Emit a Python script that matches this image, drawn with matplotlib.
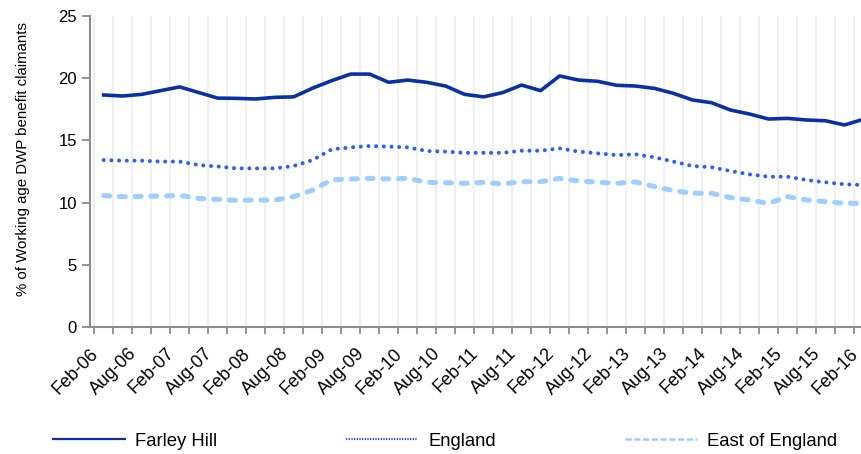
import matplotlib.pyplot as plt
from matplotlib.lines import Line2D

plt.rcParams['font.family'] = ['Liberation Sans', 'DejaVu Sans']

# Quarterly points, Feb-06 .. Feb-16
quarters = []
for yr in range(6, 17):
    for mon in ["Feb", "May", "Aug", "Nov"]:
        quarters.append(f"{mon}-{yr:02d}")
quarters = quarters[:41]

farley_hill = [18.65, 18.57, 18.7, 19.0, 19.3, 18.85, 18.4, 18.38, 18.33, 18.46,
               18.5, 19.2, 19.8, 20.33, 20.33, 19.67, 19.85, 19.67, 19.37, 18.7,
               18.5, 18.84, 19.45, 19.0, 20.18, 19.85, 19.75, 19.43, 19.37, 19.18,
               18.78, 18.25, 18.03, 17.44, 17.12, 16.72, 16.77, 16.64, 16.58, 16.24,
               16.7]
england = [13.42, 13.37, 13.37, 13.3, 13.3, 13.02, 12.9, 12.75, 12.75, 12.75,
           12.94, 13.42, 14.28, 14.44, 14.55, 14.5, 14.44, 14.15, 14.1, 14.0,
           14.0, 14.0, 14.17, 14.17, 14.36, 14.1, 13.96, 13.82, 13.88, 13.64,
           13.29, 12.94, 12.84, 12.54, 12.27, 12.08, 12.08, 11.82, 11.63, 11.47,
           11.41]
east_of_england = [10.56, 10.48, 10.5, 10.53, 10.58, 10.34, 10.26, 10.18, 10.2, 10.2,
                   10.48, 11.0, 11.82, 11.9, 11.95, 11.9, 11.95, 11.63, 11.6, 11.55,
                   11.63, 11.5, 11.68, 11.68, 11.95, 11.74, 11.63, 11.55, 11.66, 11.28,
                   10.96, 10.75, 10.75, 10.4, 10.21, 9.94, 10.48, 10.21, 10.08, 9.94,
                   9.94]

c_farley = "#0a30a6"
c_england = "#2f5cff"
c_east = "#9fcdfd"
axis_grey = "#8c8c8c"

W, H = 862, 454
fig = plt.figure(figsize=(W / 100, H / 100), dpi=100)
# axes runs slightly past the right edge of the picture, as in the source
ax = fig.add_axes([90 / W, (H - 327) / H, 783 / W, 311 / H])

x = list(range(len(quarters)))
ax.plot(x, farley_hill, color=c_farley, lw=2.6, solid_joinstyle="round", zorder=3)
ax.plot(x, england, color=c_england, lw=2.9, linestyle=(0, (0.01, 1.9)),
        dash_capstyle="round", zorder=3)
ax.plot(x, east_of_england, color=c_east, lw=3.6, linestyle=(0, (1.2, 1.95)),
        dash_capstyle="round", zorder=3)

ax.set_xlim(-0.5, len(quarters) - 0.5)
ax.set_ylim(0, 25)
ax.set_yticks(range(0, 26, 5))

# labels every other quarter (nudged left so the rotated text ends at the
# category), ticks and grid between categories
label_offset = -0.72
ax.set_xticks([i + label_offset for i in x[::2]])
ax.set_xticklabels(quarters[::2], rotation=45, ha="right", va="top",
                   rotation_mode="anchor", fontsize=13)
ax.set_xticks([i - 0.5 for i in range(len(quarters) + 1)], minor=True)
ax.tick_params(axis="x", which="major", length=0, pad=13)
ax.tick_params(axis="x", which="minor", length=5, width=1.3, color=axis_grey)
ax.tick_params(axis="y", length=5.5, width=1.3, color=axis_grey, pad=4, labelsize=12)
ax.grid(axis="x", which="minor", color="#efefef", lw=1.5, zorder=0)

for side in ["top", "right"]:
    ax.spines[side].set_visible(False)
for side in ["left", "bottom"]:
    ax.spines[side].set_color(axis_grey)
    ax.spines[side].set_linewidth(1.5)

ax.set_ylabel("% of Working age DWP benefit claimants", fontsize=10.8, va="center")
ax.yaxis.set_label_coords(-0.085, 0.54)

handles = [
    Line2D([], [], color=c_farley, lw=1.6),
    Line2D([], [], color=c_england, lw=1.6, linestyle=(0, (0.6, 0.6))),
    Line2D([], [], color=c_east, lw=1.8, linestyle=(0, (2.5, 1))),
]
fig.legend(handles, ["Farley Hill", "England", "East of England"],
           loc="center left", bbox_to_anchor=(53 / W, 13 / H), ncol=3,
           frameon=False, fontsize=13.3, handlelength=3.9, handletextpad=0.54,
           columnspacing=7.0, borderpad=0, borderaxespad=0)

fig.savefig("out.png", dpi=100)
